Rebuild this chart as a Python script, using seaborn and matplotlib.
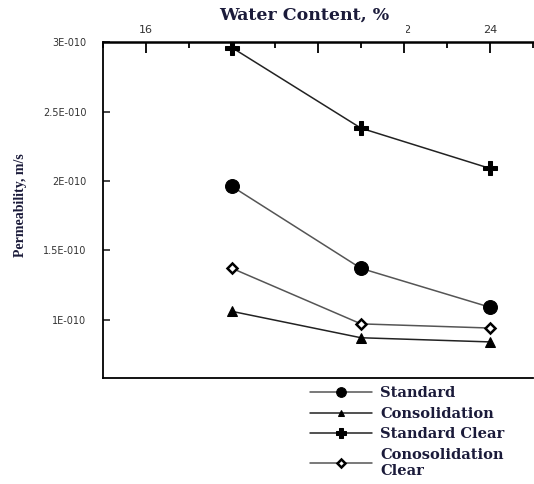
import matplotlib
matplotlib.use("Agg")
import matplotlib.pyplot as plt
from matplotlib.patches import Rectangle
from matplotlib.ticker import MultipleLocator
import seaborn as sns

# values
WATER_CONTENT = [18, 21, 24]
STANDARD = [1.96e-10, 1.37e-10, 1.09e-10]
CONSOLIDATION = [1.06e-10, 0.87e-10, 0.84e-10]
STANDARD_CLEAR = [2.96e-10, 2.38e-10, 2.09e-10]
CONSOL_CLEAR = [1.37e-10, 0.97e-10, 0.94e-10]

SERIES_NAMES = ["Standard", "Consolidation", "Standard Clear", "Conosolidation\nClear"]
X_TICKS = [16, 18, 20, 22, 24]
Y_TICKS = [1e-10, 1.5e-10, 2e-10, 2.5e-10, 3e-10]
Y_TICK_LABELS = ["1E-010", "1.5E-010", "2E-010", "2.5E-010", "3E-010"]

TEXT_COLOR = "#1b1b3a"
SERIF = ["DejaVu Serif"]

sns.set_style("ticks")
plt.rcParams["font.family"] = ["DejaVu Sans"]

fig = plt.figure(figsize=(5.34, 4.84), dpi=100)
ax = fig.add_axes([0.193, 0.219, 0.805, 0.694])

styles = [
    dict(marker="o", markersize=10, color="#555555", markerfacecolor="black", markeredgecolor="black"),
    dict(marker="^", markersize=7, color="#222222", markerfacecolor="black", markeredgecolor="black"),
    dict(marker="P", markersize=10, color="#222222", markerfacecolor="black", markeredgecolor="black"),
    dict(marker="D", markersize=5.5, color="#555555", markerfacecolor="white",
         markeredgecolor="black", markeredgewidth=1.8),
]
for name, vals, st in zip(SERIES_NAMES, [STANDARD, CONSOLIDATION, STANDARD_CLEAR, CONSOL_CLEAR], styles):
    sns.lineplot(x=WATER_CONTENT, y=vals, ax=ax, label=name, linewidth=1.1, **st)

ax.set_xlim(15, 25)
ax.set_ylim(0.58e-10, 3e-10)

ax.xaxis.tick_top()
ax.set_xticks(X_TICKS)
ax.xaxis.set_minor_locator(MultipleLocator(1))
ax.set_yticks(Y_TICKS, labels=Y_TICK_LABELS)
ax.yaxis.set_minor_locator(MultipleLocator(0.5e-10))

ax.tick_params(axis="x", which="both", direction="in", top=True, bottom=False,
               labeltop=True, labelbottom=False, width=1.3, colors="black",
               labelcolor="#333333", labelsize=8, pad=5)
ax.tick_params(axis="x", which="major", length=8)
ax.tick_params(axis="x", which="minor", length=4)
ax.tick_params(axis="y", which="both", direction="in", left=True, right=False,
               width=1.2, length=5, labelcolor="#333333", labelsize=7, pad=12)

for side in ["top", "left", "bottom"]:
    ax.spines[side].set_visible(True)
    ax.spines[side].set_color("black")
ax.spines["top"].set_linewidth(1.8)
ax.spines["left"].set_linewidth(1.3)
ax.spines["bottom"].set_linewidth(1.3)
ax.spines["right"].set_visible(False)

leg = ax.legend(loc="upper left", bbox_to_anchor=(0.58, 0.202), bbox_transform=fig.transFigure,
                frameon=False, borderpad=0, borderaxespad=0, handlelength=4.3,
                handletextpad=0.55, labelspacing=0.45, markerscale=0.7,
                prop={"family": SERIF, "weight": "bold", "size": 10.5})
for t in leg.get_texts():
    t.set_color(TEXT_COLOR)

# white patch over the middle x tick labels, as in the reference
fig.add_artist(Rectangle((224 / 534, 1 - 37 / 484), 182 / 534, 18 / 484,
                         transform=fig.transFigure, facecolor="white",
                         edgecolor="none", zorder=5))
fig.text(0.569, 0.968, "Water Content, %", ha="center", va="center", fontsize=12.5,
         fontweight="bold", family=SERIF, color=TEXT_COLOR, zorder=6)
fig.text(0.038, 0.576, "Permeability, m/s", ha="center", va="center", rotation=90,
         fontsize=10, fontweight="bold", family=["Liberation Serif", "DejaVu Serif"],
         color=TEXT_COLOR)

fig.savefig("out.png", dpi=100)
